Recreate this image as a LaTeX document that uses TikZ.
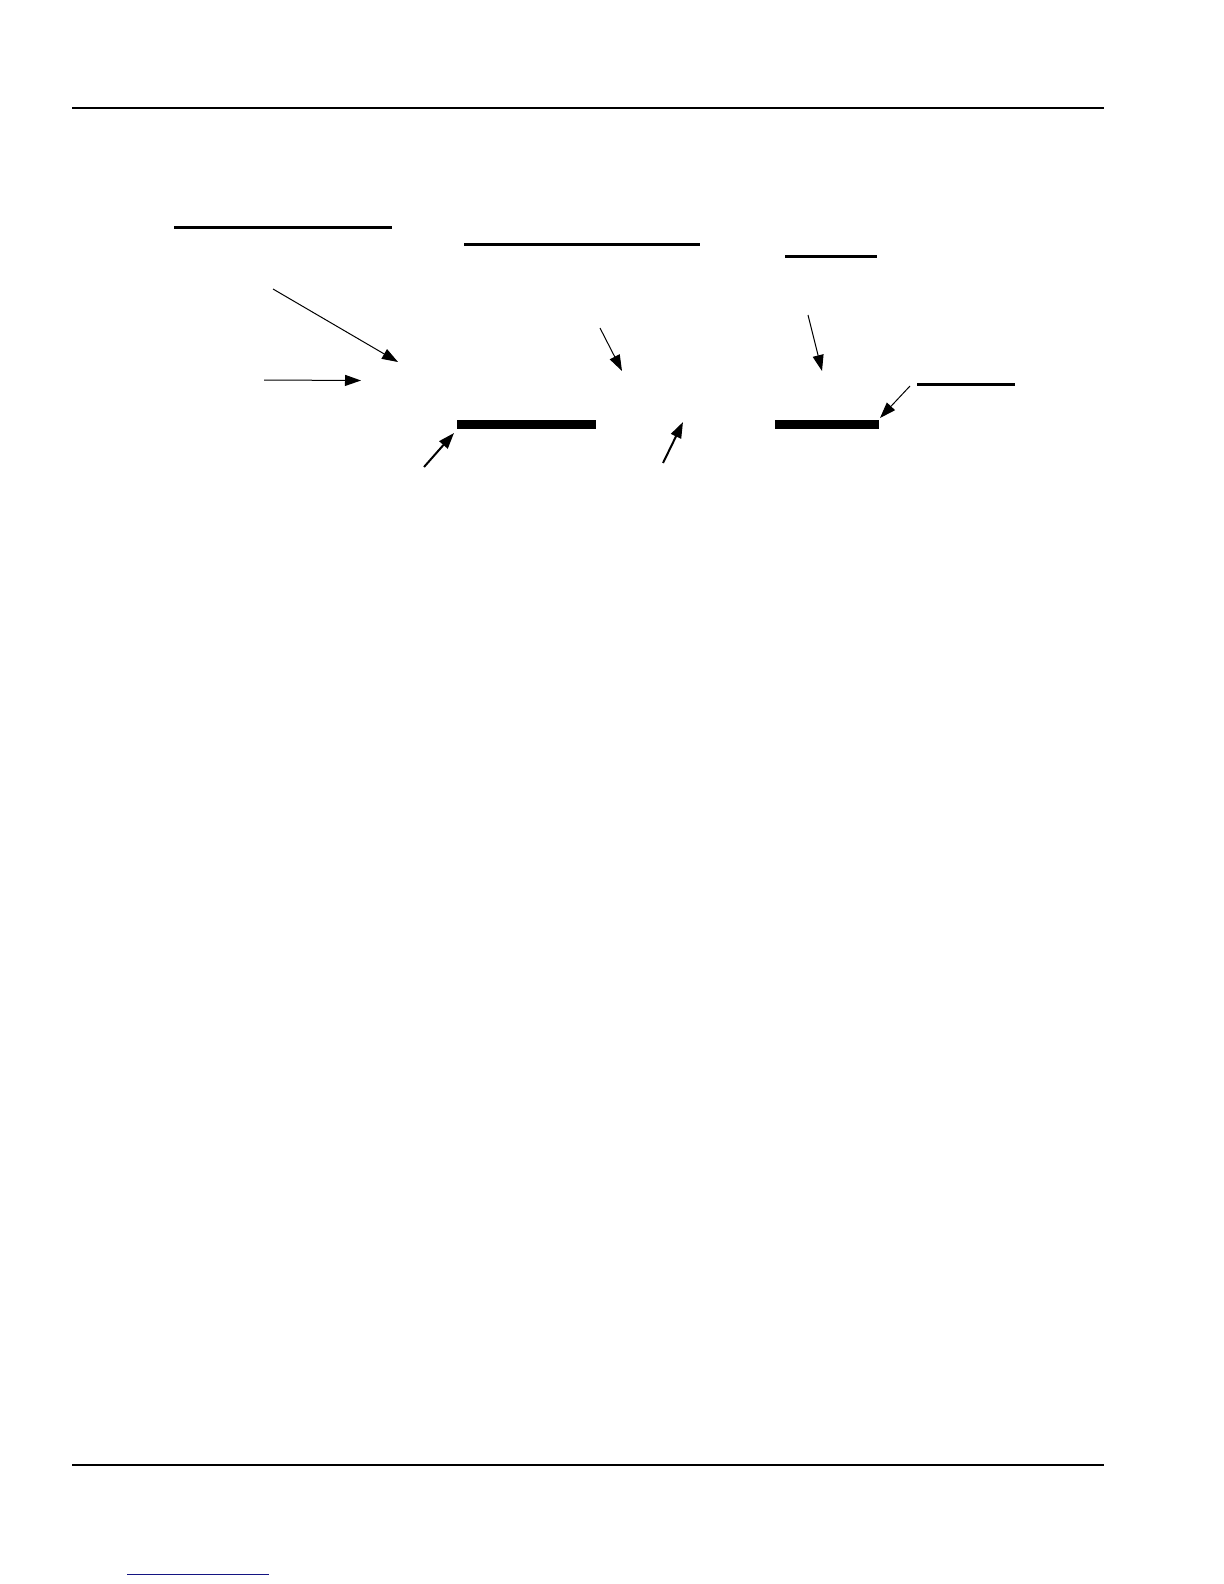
\documentclass[tikz,border=0pt]{standalone}
\usetikzlibrary{arrows.meta}
\definecolor{linkblue}{RGB}{20,20,130}
\begin{document}
\begin{tikzpicture}[x=0.5pt,y=-0.5pt,
  rule/.style={line width=1pt},
  bar/.style={line width=1.5pt},
  thickbar/.style={line width=4.5pt},
  thinarrow/.style={line width=0.5pt,-{Triangle[length=8pt,width=5.5pt]}},
  medarrow/.style={line width=1pt,-{Triangle[length=8pt,width=5.5pt]}}]
\fill[white] (0,0) rectangle (1224,1584);
\useasboundingbox (0,0) rectangle (1224,1584);
% page rules
\draw[rule] (72,108.5) -- (1104,108.5);
\draw[rule] (72,1464.5) -- (1104,1464.5);
\draw[linkblue,line width=0.5pt] (127,1574) -- (269,1574);
% label lines
\draw[bar] (174,227.5) -- (392,227.5);
\draw[bar] (464,244.5) -- (700,244.5);
\draw[bar] (785,256.5) -- (877,256.5);
\draw[bar] (917,384.5) -- (1015,384.5);
% thick bars
\draw[thickbar] (457,424.5) -- (596,424.5);
\draw[thickbar] (775,424.5) -- (879,424.5);
% arrows
\coordinate (a1) at (273,289); \coordinate (a2) at (398,362);
\coordinate (b1) at (264,380); \coordinate (b2) at (361,380.5);
\coordinate (c1) at (424,467); \coordinate (c2) at (454,433);
\coordinate (d1) at (600,328); \coordinate (d2) at (622,371);
\coordinate (e1) at (663,463); \coordinate (e2) at (683,422);
\coordinate (f1) at (808,315); \coordinate (f2) at (822,371);
\coordinate (g1) at (910,386); \coordinate (g2) at (880,418);
\draw[thinarrow] (a1) -- (a2);
\draw[thinarrow] (b1) -- (b2);
\draw[medarrow] (c1) -- (c2);
\draw[thinarrow] (d1) -- (d2);
\draw[medarrow] (e1) -- (e2);
\draw[thinarrow] (f1) -- (f2);
\draw[thinarrow] (g1) -- (g2);
\end{tikzpicture}
\end{document}
